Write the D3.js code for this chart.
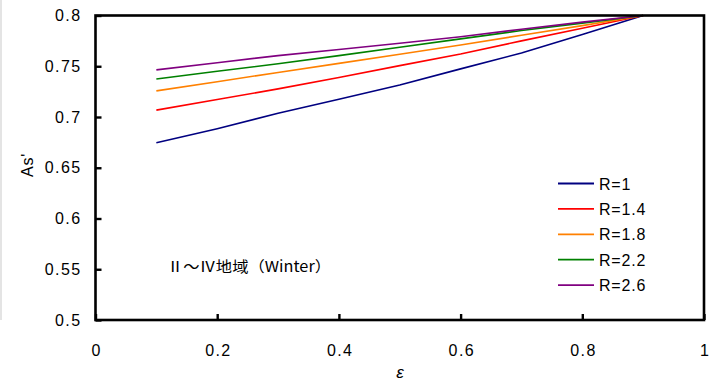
<!DOCTYPE html>
<html>
<head>
<meta charset="utf-8">
<script src="https://cdn.jsdelivr.net/npm/d3@7"></script>
<style>
  body { margin: 0; background: #fff; }
  svg { display: block; }
  .tick text { font-family: "Liberation Sans", Arial, sans-serif; font-size: 16px; fill: #000; letter-spacing: 1.4px; }
</style>
</head>
<body>
<div id="chart"></div>
<script>
// values
var eps = [0.1, 0.2, 0.3, 0.4, 0.5, 0.6, 0.7, 0.8, 0.9];
var seriesNames = ["R=1", "R=1.4", "R=1.8", "R=2.2", "R=2.6"];
var r10 = [0.6746, 0.6884, 0.7036, 0.7174, 0.7316, 0.7474, 0.7631, 0.7813, 0.8];
var r14 = [0.7068, 0.7172, 0.7277, 0.7390, 0.7506, 0.7620, 0.7750, 0.7875, 0.8];
var r18 = [0.7257, 0.7348, 0.7439, 0.7528, 0.7618, 0.7710, 0.7805, 0.7900, 0.8];
var r22 = [0.7375, 0.7450, 0.7525, 0.7605, 0.7687, 0.7770, 0.7852, 0.7925, 0.8];
var r26 = [0.7464, 0.7535, 0.7605, 0.7665, 0.7727, 0.7790, 0.7865, 0.7935, 0.8];
var xTicks = [0, 0.2, 0.4, 0.6, 0.8, 1];
var yTicks = [0.5, 0.55, 0.6, 0.65, 0.7, 0.75, 0.8];
var colors = ["#000080", "#ff0000", "#ff8000", "#008000", "#800080"];

var allSeries = [r10, r14, r18, r22, r26];

var width = 711, height = 383;
var plotLeft = 95.5, plotRight = 704, plotTop = 15.5, plotBottom = 320;
var font = "'Liberation Sans', Arial, sans-serif";

var svg = d3.select("#chart").append("svg")
    .attr("width", width)
    .attr("height", height);

var x = d3.scaleLinear().domain([0, 1]).range([plotLeft, plotRight]);
var y = d3.scaleLinear().domain([0.5, 0.8]).range([plotBottom, plotTop]);

// faint edge left over from the crop
svg.append("line")
    .attr("x1", 1).attr("x2", 1).attr("y1", 0).attr("y2", 320)
    .attr("stroke", "#e4e4e4").attr("stroke-width", 2);

// lines
var line = d3.line()
    .x(function(d, i) { return x(eps[i]); })
    .y(function(d) { return y(d); });

svg.selectAll(".series")
    .data(allSeries)
    .enter().append("path")
    .attr("class", "series")
    .attr("d", line)
    .attr("fill", "none")
    .attr("stroke", function(d, i) { return colors[i]; })
    .attr("stroke-width", 1.6);

// frame
svg.append("rect")
    .attr("x", plotLeft).attr("y", plotTop)
    .attr("width", plotRight - plotLeft).attr("height", plotBottom - plotTop)
    .attr("fill", "none")
    .attr("stroke", "#000")
    .attr("stroke-width", 2.6);

var fmt = d3.format("~g");

var yAxis = svg.append("g")
    .attr("transform", "translate(" + plotLeft + ",0)")
    .call(d3.axisLeft(y).tickValues(yTicks).tickFormat(fmt)
        .tickSizeInner(-6).tickSizeOuter(0).tickPadding(14));

var xAxis = svg.append("g")
    .attr("transform", "translate(0," + plotBottom + ")")
    .call(d3.axisBottom(x).tickValues(xTicks).tickFormat(fmt)
        .tickSizeInner(-6).tickSizeOuter(0).tickPadding(25));

xAxis.selectAll(".tick text").attr("dx", 0.7);

[yAxis, xAxis].forEach(function(g) {
    g.select(".domain").remove();
    g.selectAll(".tick line").attr("stroke", "#000").attr("stroke-width", 2.4);
});

// axis titles
svg.append("text")
    .attr("transform", "translate(33,165) rotate(-90)")
    .attr("text-anchor", "middle")
    .style("font-family", font)
    .style("font-size", "16px")
    .style("letter-spacing", "0.8px")
    .text("As'");

svg.append("text")
    .attr("x", 400).attr("y", 378)
    .attr("text-anchor", "middle")
    .style("font-family", font)
    .style("font-size", "17px")
    .style("font-style", "italic")
    .text("ε");

// annotation
svg.append("text")
    .attr("x", 167).attr("y", 272)
    .attr("textLength", 164)
    .attr("lengthAdjust", "spacingAndGlyphs")
    .style("font-family", "'Noto Sans CJK JP', sans-serif")
    .style("font-size", "15px")
    .text("Ⅱ～Ⅳ地域（Winter）");

// legend
var legend = svg.append("g");
var rows = legend.selectAll("g")
    .data(seriesNames)
    .enter().append("g")
    .attr("transform", function(d, i) { return "translate(0," + (183.5 + i * 25.4) + ")"; });

rows.append("line")
    .attr("x1", 558).attr("x2", 594)
    .attr("stroke", function(d, i) { return colors[i]; })
    .attr("stroke-width", 1.8);

rows.append("text")
    .attr("x", 599).attr("y", 6)
    .style("font-family", font)
    .style("font-size", "16px")
    .style("letter-spacing", "0.8px")
    .text(function(d) { return d; });
</script>
</body>
</html>
